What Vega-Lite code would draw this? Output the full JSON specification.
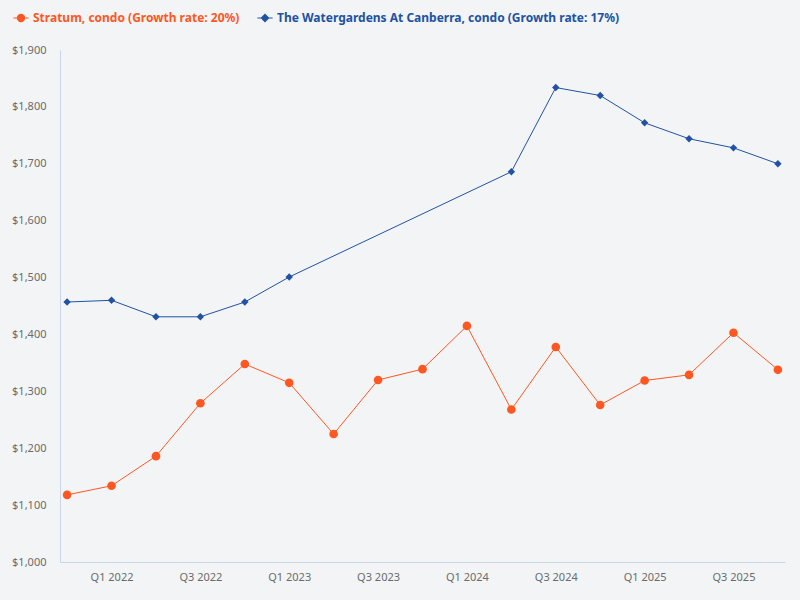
{
  "$schema": "https://vega.github.io/schema/vega-lite/v6.json",
  "width": 725,
  "height": 512,
  "autosize": {"type": "none"},
  "padding": {"left": 60, "top": 50, "right": 15, "bottom": 38},
  "background": "#F2F4F6",
  "config": {
    "view": {"stroke": null},
    "font": "Noto Sans"
  },
  "data": {
    "values": [
      {"quarter": "Q4 2021", "series": "Stratum, condo (Growth rate: 20%)", "price": 1118},
      {"quarter": "Q1 2022", "series": "Stratum, condo (Growth rate: 20%)", "price": 1134},
      {"quarter": "Q2 2022", "series": "Stratum, condo (Growth rate: 20%)", "price": 1186},
      {"quarter": "Q3 2022", "series": "Stratum, condo (Growth rate: 20%)", "price": 1279},
      {"quarter": "Q4 2022", "series": "Stratum, condo (Growth rate: 20%)", "price": 1348},
      {"quarter": "Q1 2023", "series": "Stratum, condo (Growth rate: 20%)", "price": 1315},
      {"quarter": "Q2 2023", "series": "Stratum, condo (Growth rate: 20%)", "price": 1225},
      {"quarter": "Q3 2023", "series": "Stratum, condo (Growth rate: 20%)", "price": 1320},
      {"quarter": "Q4 2023", "series": "Stratum, condo (Growth rate: 20%)", "price": 1339},
      {"quarter": "Q1 2024", "series": "Stratum, condo (Growth rate: 20%)", "price": 1415},
      {"quarter": "Q2 2024", "series": "Stratum, condo (Growth rate: 20%)", "price": 1268},
      {"quarter": "Q3 2024", "series": "Stratum, condo (Growth rate: 20%)", "price": 1378},
      {"quarter": "Q4 2024", "series": "Stratum, condo (Growth rate: 20%)", "price": 1276},
      {"quarter": "Q1 2025", "series": "Stratum, condo (Growth rate: 20%)", "price": 1319},
      {"quarter": "Q2 2025", "series": "Stratum, condo (Growth rate: 20%)", "price": 1329},
      {"quarter": "Q3 2025", "series": "Stratum, condo (Growth rate: 20%)", "price": 1403},
      {"quarter": "Q4 2025", "series": "Stratum, condo (Growth rate: 20%)", "price": 1338},
      {"quarter": "Q4 2021", "series": "The Watergardens At Canberra, condo (Growth rate: 17%)", "price": 1457},
      {"quarter": "Q1 2022", "series": "The Watergardens At Canberra, condo (Growth rate: 17%)", "price": 1460},
      {"quarter": "Q2 2022", "series": "The Watergardens At Canberra, condo (Growth rate: 17%)", "price": 1431},
      {"quarter": "Q3 2022", "series": "The Watergardens At Canberra, condo (Growth rate: 17%)", "price": 1431},
      {"quarter": "Q4 2022", "series": "The Watergardens At Canberra, condo (Growth rate: 17%)", "price": 1457},
      {"quarter": "Q1 2023", "series": "The Watergardens At Canberra, condo (Growth rate: 17%)", "price": 1501},
      {"quarter": "Q2 2024", "series": "The Watergardens At Canberra, condo (Growth rate: 17%)", "price": 1686},
      {"quarter": "Q3 2024", "series": "The Watergardens At Canberra, condo (Growth rate: 17%)", "price": 1834},
      {"quarter": "Q4 2024", "series": "The Watergardens At Canberra, condo (Growth rate: 17%)", "price": 1820},
      {"quarter": "Q1 2025", "series": "The Watergardens At Canberra, condo (Growth rate: 17%)", "price": 1772},
      {"quarter": "Q2 2025", "series": "The Watergardens At Canberra, condo (Growth rate: 17%)", "price": 1744},
      {"quarter": "Q3 2025", "series": "The Watergardens At Canberra, condo (Growth rate: 17%)", "price": 1728},
      {"quarter": "Q4 2025", "series": "The Watergardens At Canberra, condo (Growth rate: 17%)", "price": 1700}
    ]
  },
  "encoding": {
    "x": {
      "field": "quarter",
      "type": "ordinal",
      "sort": null,
      "scale": {
        "type": "point",
        "padding": 0.16,
        "domain": ["Q4 2021", "Q1 2022", "Q2 2022", "Q3 2022", "Q4 2022", "Q1 2023", "Q2 2023", "Q3 2023", "Q4 2023", "Q1 2024", "Q2 2024", "Q3 2024", "Q4 2024", "Q1 2025", "Q2 2025", "Q3 2025", "Q4 2025"]
      },
      "axis": {
        "title": null,
        "values": ["Q1 2022", "Q3 2022", "Q1 2023", "Q3 2023", "Q1 2024", "Q3 2024", "Q1 2025", "Q3 2025"],
        "labelAngle": 0,
        "ticks": false,
        "labelPadding": 9,
        "labelColor": "#6B6B6B",
        "labelFontSize": 11,
        "labelFontWeight": "normal",
        "domainColor": "#C9D6EA",
        "grid": false
      }
    },
    "y": {
      "field": "price",
      "type": "quantitative",
      "scale": {"domain": [1000, 1900], "nice": false, "zero": false},
      "axis": {
        "title": null,
        "format": "$,.0f",
        "values": [1000, 1100, 1200, 1300, 1400, 1500, 1600, 1700, 1800, 1900],
        "labelOverlap": false,
        "labelBound": false,
        "ticks": false,
        "labelPadding": 14,
        "labelColor": "#6B6B6B",
        "labelFontSize": 11,
        "domainColor": "#C9D6EA",
        "grid": false
      }
    },
    "color": {
      "field": "series",
      "type": "nominal",
      "sort": null,
      "scale": {"range": ["#FF5722", "#2152A3"]},
      "legend": {
        "title": null,
        "orient": "none",
        "legendX": -45,
        "legendY": -38,
        "direction": "horizontal",
        "labelFontSize": 12,
        "labelFontWeight": "bold",
        "labelLimit": 400,
        "columnPadding": 15,
        "symbolSize": 64,
        "labelOffset": 6,
        "symbolStrokeWidth": 1.2,
        "encode": {
          "symbols": {
            "update": {
              "shape": {"signal": "datum.value == 'Stratum, condo (Growth rate: 20%)' ? 'M-1.9,0L1.9,0M-0.9,0A0.9,0.9 0 1,0 0.9,0A0.9,0.9 0 1,0 -0.9,0' : 'M-1.9,0L1.9,0M0,-0.9L0.9,0L0,0.9L-0.9,0Z'"},
              "fill": {"signal": "datum.value == 'Stratum, condo (Growth rate: 20%)' ? '#FF5722' : '#2152A3'"},
              "stroke": {"signal": "datum.value == 'Stratum, condo (Growth rate: 20%)' ? '#FF5722' : '#2152A3'"},
              "opacity": {"value": 1}
            }
          },
          "labels": {
            "update": {
              "fill": {"signal": "datum.value == 'Stratum, condo (Growth rate: 20%)' ? '#FF5722' : '#2152A3'"}
            }
          }
        }
      }
    }
  },
  "layer": [
    {
      "mark": {"type": "line", "strokeWidth": 1}
    },
    {
      "mark": {"type": "point", "filled": true, "opacity": 1},
      "encoding": {
        "shape": {
          "field": "series",
          "type": "nominal",
          "sort": null,
          "scale": {"range": ["circle", "diamond"]},
          "legend": null
        },
        "size": {
          "field": "series",
          "type": "nominal",
          "sort": null,
          "scale": {"range": [75, 55]},
          "legend": null
        }
      }
    }
  ]
}
